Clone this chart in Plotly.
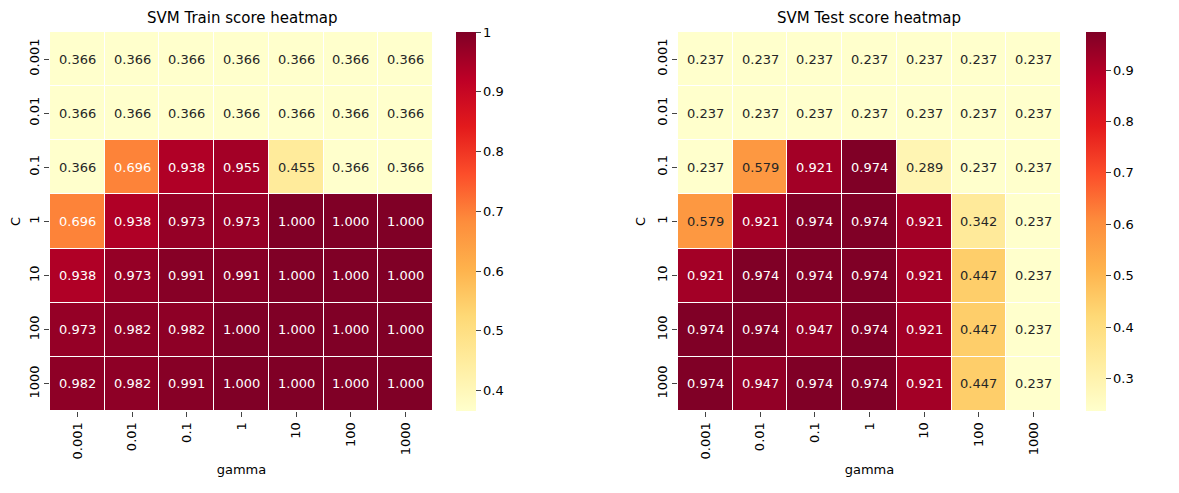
import plotly.graph_objects as go

gamma = ["0.001", "0.01", "0.1", "1", "10", "100", "1000"]
C = ["0.001", "0.01", "0.1", "1", "10", "100", "1000"]

train = [
    [0.366, 0.366, 0.366, 0.366, 0.366, 0.366, 0.366],
    [0.366, 0.366, 0.366, 0.366, 0.366, 0.366, 0.366],
    [0.366, 0.696, 0.938, 0.955, 0.455, 0.366, 0.366],
    [0.696, 0.938, 0.973, 0.973, 1.000, 1.000, 1.000],
    [0.938, 0.973, 0.991, 0.991, 1.000, 1.000, 1.000],
    [0.973, 0.982, 0.982, 1.000, 1.000, 1.000, 1.000],
    [0.982, 0.982, 0.991, 1.000, 1.000, 1.000, 1.000],
]
test = [
    [0.237, 0.237, 0.237, 0.237, 0.237, 0.237, 0.237],
    [0.237, 0.237, 0.237, 0.237, 0.237, 0.237, 0.237],
    [0.237, 0.579, 0.921, 0.974, 0.289, 0.237, 0.237],
    [0.579, 0.921, 0.974, 0.974, 0.921, 0.342, 0.237],
    [0.921, 0.974, 0.974, 0.974, 0.921, 0.447, 0.237],
    [0.974, 0.974, 0.947, 0.974, 0.921, 0.447, 0.237],
    [0.974, 0.947, 0.974, 0.974, 0.921, 0.447, 0.237],
]

W, H = 1163, 477  # page has an 8px body margin
off = 8
fig = go.Figure()
idx = list(range(len(gamma)))

panels = [
    (train, "x", "y", 50, 433, 456, "SVM Train score heatmap", [0.4, 0.5, 0.6, 0.7, 0.8, 0.9, 1.0]),
    (test, "x2", "y2", 678, 1061, 1086, "SVM Test score heatmap", [0.3, 0.4, 0.5, 0.6, 0.7, 0.8, 0.9]),
]
top, bot = 32 - off, 411 - off
annotations = []
layout = {}
for i, (z, xa, ya, x0, x1, cbx, title, ticks) in enumerate(panels):
    x0, x1, cbx = x0 - off, x1 - off, cbx - off
    zmin = min(min(r) for r in z)
    zmax = max(max(r) for r in z)
    fig.add_trace(go.Heatmap(
        z=z, x=idx, y=idx, xaxis=xa, yaxis=ya, colorscale="YlOrRd",
        zmin=zmin, zmax=zmax, xgap=1, ygap=1,
        colorbar=dict(x=cbx / W, xanchor="left", xpad=0, y=1 - top / H, yanchor="top",
                      ypad=0, len=(bot - top), lenmode="pixels", thickness=20,
                      thicknessmode="pixels", tickvals=ticks, outlinewidth=0,
                      ticks="outside", tickfont=dict(size=13)),
    ))
    for r, row in enumerate(z):
        for c, v in enumerate(row):
            norm = (v - zmin) / (zmax - zmin)
            annotations.append(dict(
                x=c, y=r, xref=xa, yref=ya, text=f"{v:.3f}",
                showarrow=False,
                font=dict(size=13, color="white" if norm > 0.5 else "#262626"),
            ))
    annotations.append(dict(
        x=(x0 + x1) / 2 / W, y=1 - (18 - off) / H, xref="paper", yref="paper",
        xanchor="center", yanchor="middle",
        text=title, showarrow=False, font=dict(size=15, color="black")))
    sfx = "" if i == 0 else "2"
    layout["xaxis" + sfx] = dict(
        domain=[x0 / W, x1 / W], anchor="y" + sfx, range=[-0.5, 6.5],
        tickvals=idx, ticktext=gamma,
        tickangle=-90, ticks="outside", showgrid=False, zeroline=False,
        title=dict(text="gamma", font=dict(size=13), standoff=6),
        tickfont=dict(size=13))
    layout["yaxis" + sfx] = dict(
        domain=[1 - bot / H, 1 - top / H], anchor="x" + sfx, range=[6.5, -0.5],
        tickvals=idx, ticktext=C,
        tickangle=-90, ticks="outside", showgrid=False,
        zeroline=False, title=dict(text="C", font=dict(size=13), standoff=6),
        tickfont=dict(size=13))

fig.update_layout(
    width=W, height=H, margin=dict(l=0, r=0, t=0, b=0),
    plot_bgcolor="white", paper_bgcolor="white",
    font=dict(family="DejaVu Sans", size=13, color="black"),
    annotations=annotations, **layout,
)
fig.write_html("out.html")
